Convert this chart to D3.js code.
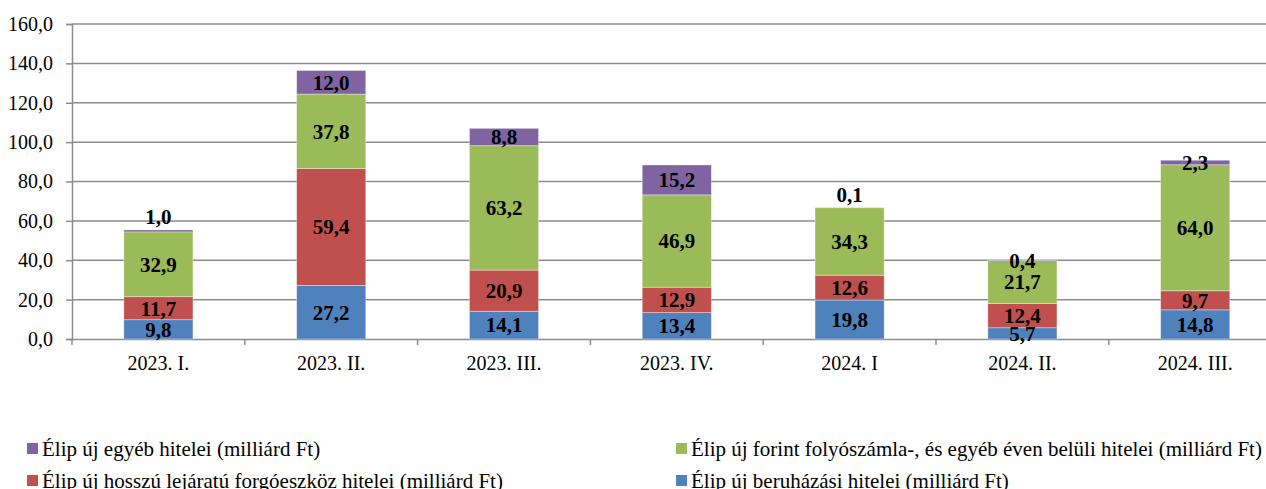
<!DOCTYPE html>
<html><head><meta charset="utf-8">
<script src="https://cdn.jsdelivr.net/npm/d3@7"></script>
<style>
html,body{margin:0;padding:0;background:#fff;overflow:hidden;}
svg{display:block;}
svg text{font-family:"Liberation Serif","Tinos","Times New Roman","DejaVu Serif",serif !important;}
</style></head>
<body><svg id="c" width="1266" height="489"></svg>
<script>
const categories = ["2023. I.", "2023. II.", "2023. III.", "2023. IV.", "2024. I", "2024. II.", "2024. III."];
const beruhazasi = [9.8, 27.2, 14.1, 13.4, 19.8, 5.7, 14.8];
const hosszuLejaratu = [11.7, 59.4, 20.9, 12.9, 12.6, 12.4, 9.7];
const folyoszamla = [32.9, 37.8, 63.2, 46.9, 34.3, 21.7, 64.0];
const egyeb = [1.0, 12.0, 8.8, 15.2, 0.1, 0.4, 2.3];
const yTicks = [0, 20, 40, 60, 80, 100, 120, 140, 160];
const seriesNames = [
  "Élip új beruházási hitelei (milliárd Ft)",
  "Élip új hosszú lejáratú forgóeszköz hitelei (milliárd Ft)",
  "Élip új forint folyószámla-, és egyéb éven belüli hitelei (milliárd Ft)",
  "Élip új egyéb hitelei (milliárd Ft)"
];
const colors = ["#4F81BD", "#C0504D", "#9BBB59", "#8064A2"];
// categories whose tiny top label sits above the bar
const liftedLabels = ["2023. I.", "2024. I"];

const seriesValues = [beruhazasi, hosszuLejaratu, folyoszamla, egyeb];
const rows = categories.map((c, i) => {
  const r = {cat: c};
  seriesValues.forEach((s, k) => r["s" + k] = s[i]);
  return r;
});
const keys = ["s0", "s1", "s2", "s3"];
const stacked = d3.stack().keys(keys)(rows);

const svg = d3.select("#c");
const mLeft = 72, mTop = 24, mBottom = 339, step = 172.8;
const x = d3.scaleBand().domain(categories).range([mLeft, mLeft + step * categories.length]).paddingInner(0.6).paddingOuter(0.3);
const y = d3.scaleLinear().domain([0, 160]).range([mBottom, mTop]);

// gridlines
svg.append("g").selectAll("line").data(yTicks.filter(t => t > 0)).join("line")
  .attr("x1", mLeft).attr("x2", 1266).attr("y1", d => y(d)).attr("y2", d => y(d))
  .attr("stroke", "#8c8c8c").attr("stroke-width", 1.5);

// y axis
const yAxis = svg.append("g").attr("transform", `translate(${mLeft},0)`)
  .call(d3.axisLeft(y).tickValues(yTicks).tickSize(6).tickPadding(13)
    .tickFormat(d => d3.format(".1f")(d).replace(".", ",")));
yAxis.select(".domain").attr("stroke", "#8c8c8c").attr("stroke-width", 1.5);
yAxis.selectAll(".tick line").attr("stroke", "#8c8c8c").attr("stroke-width", 1.5);
yAxis.selectAll("text").attr("font-size", 20).attr("fill", "#000");

// x axis
const xAxis = svg.append("g").attr("transform", `translate(0,${mBottom})`)
  .call(d3.axisBottom(x).tickSize(0).tickPadding(17));
xAxis.select(".domain").attr("stroke", "#8c8c8c").attr("stroke-width", 1.5);
xAxis.selectAll("text").attr("font-size", 20).attr("fill", "#000");
// boundary ticks between categories
svg.append("g").selectAll("line").data(categories).join("line")
  .attr("x1", d => x(d) - x.step() * x.paddingOuter()).attr("x2", d => x(d) - x.step() * x.paddingOuter())
  .attr("y1", mBottom).attr("y2", mBottom + 6).attr("stroke", "#8c8c8c").attr("stroke-width", 1.5);

// bars
const g = svg.append("g");
stacked.forEach((layer, k) => {
  g.append("g").selectAll("rect").data(layer).join("rect")
    .attr("x", d => x(d.data.cat)).attr("width", x.bandwidth())
    .attr("y", d => y(d[1])).attr("height", d => y(d[0]) - y(d[1]))
    .attr("fill", colors[k]).attr("stroke", "rgba(255,255,255,0.45)").attr("stroke-width", 0.8);
});

// labels
const lg = svg.append("g");
stacked.forEach((layer, k) => {
  lg.append("g").selectAll("text").data(layer).join("text")
    .attr("x", d => x(d.data.cat) + x.bandwidth() / 2)
    .attr("y", d => {
      if (k === 3 && liftedLabels.includes(d.data.cat)) return y(d[1]) - 13;
      return y((d[0] + d[1]) / 2);
    })
    .attr("dy", "0.35em")
    .attr("text-anchor", "middle")
    .attr("font-weight", "bold").attr("font-size", 21)
    .attr("fill", "#000")
    .text(d => d3.format(".1f")(d[1] - d[0]).replace(".", ","));
});

// legend
const legendItems = [
  {k: 3, x: 27, y: 443},
  {k: 2, x: 676, y: 443},
  {k: 1, x: 27, y: 475},
  {k: 0, x: 676, y: 475}
];
const leg = svg.append("g");
legendItems.forEach(it => {
  leg.append("rect").attr("x", it.x).attr("y", it.y).attr("width", 11).attr("height", 11).attr("fill", colors[it.k]);
  leg.append("text").attr("x", it.x + 15).attr("y", it.y + 5.5).attr("dy", "0.35em")
    .attr("font-size", 21).attr("fill", "#000")
    .text(seriesNames[it.k]);
});
</script></body></html>
